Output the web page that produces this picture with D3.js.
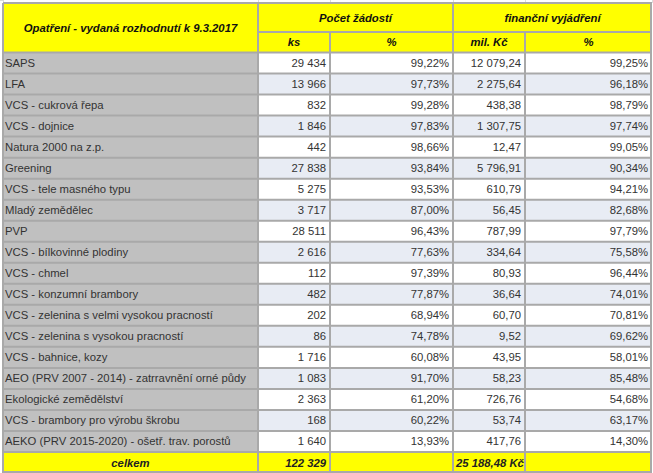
<!DOCTYPE html>
<html><head><meta charset="utf-8">
<script src="https://cdn.jsdelivr.net/npm/d3@7"></script>
<style>html,body{margin:0;padding:0;background:#fff;} svg{display:block;}</style>
</head><body>
<script>
const title = "Opatření - vydaná rozhodnutí k 9.3.2017";
const groupHeaders = ["Počet žádostí", "finanční vyjádření"];
const subHeaders = ["ks", "%", "mil. Kč", "%"];
const categories = ["SAPS","LFA","VCS - cukrová řepa","VCS - dojnice","Natura 2000 na z.p.","Greening","VCS - tele masného typu","Mladý zemědělec","PVP","VCS - bílkovinné plodiny","VCS - chmel","VCS - konzumní brambory","VCS - zelenina s velmi vysokou pracností","VCS - zelenina s vysokou pracností","VCS - bahnice, kozy","AEO (PRV 2007 - 2014) - zatrravnění orné půdy","Ekologické zemědělství","VCS - brambory pro výrobu škrobu","AEKO (PRV 2015-2020) - ošetř. trav. porostů"];
const countKs = [29434,13966,832,1846,442,27838,5275,3717,28511,2616,112,482,202,86,1716,1083,2363,168,1640];
const countPct = [99.22,97.73,99.28,97.83,98.66,93.84,93.53,87.00,96.43,77.63,97.39,77.87,68.94,74.78,60.08,91.70,61.20,60.22,13.93];
const moneyMil = [12079.24,2275.64,438.38,1307.75,12.47,5796.91,610.79,56.45,787.99,334.64,80.93,36.64,60.70,9.52,43.95,58.23,726.76,53.74,417.76];
const moneyPct = [99.25,96.18,98.79,97.74,99.05,90.34,94.21,82.68,97.79,75.58,96.44,74.01,70.81,69.62,58.01,85.48,54.68,63.17,14.30];
const totalLabel = "celkem";
const totalKs = 122329;
const totalMil = "25 188,48 Kč";

const W = 653, H = 473;
const colEdges = [3, 258, 330, 453, 525, 652];
const headTop = 3, head1 = 32, headBottom = 52.5, totalTop = 452, totalBottom = 473;
const FS = 11.3;

const fmtInt = v => d3.format(",d")(v).replace(/,/g, "\u00a0");
const fmtDec = v => d3.format(",.2f")(v).replace(/,/g, " ").replace(".", ",").replace(/ /g, "\u00a0");
const fmtPct = v => d3.format(".2f")(v).replace(".", ",") + "%";

const svg = d3.select("body").append("svg").attr("width", W).attr("height", H)
  .style("font-family", "'Liberation Sans', Arial, sans-serif");

svg.append("rect").attr("width", W).attr("height", H).attr("fill", "#fff");
// faint excel gridlines outside the table
const eg = svg.append("g").attr("stroke", "#dadcdd").attr("stroke-width", 1);
colEdges.forEach(v => eg.append("line").attr("x1", v + 0.5).attr("x2", v + 0.5).attr("y1", 0).attr("y2", headTop));
eg.append("line").attr("x1", 0).attr("x2", colEdges[0]).attr("y1", 0.5).attr("y2", 0.5);

const y = d3.scaleBand().domain(d3.range(categories.length)).range([headBottom, totalTop]).padding(0);

const yellow = "#ffff00";
const border = "#a9a9a9";

svg.append("rect").attr("x", colEdges[0]).attr("y", headTop).attr("width", colEdges[5]-colEdges[0]).attr("height", headBottom-headTop).attr("fill", yellow);

const rows = svg.append("g");
categories.forEach((c, i) => {
  const yy = y(i), h = y.bandwidth();
  rows.append("rect").attr("x", colEdges[0]).attr("y", yy).attr("width", colEdges[1]-colEdges[0]).attr("height", h).attr("fill", "#c0c0c0");
  rows.append("rect").attr("x", colEdges[1]).attr("y", yy).attr("width", colEdges[5]-colEdges[1]).attr("height", h).attr("fill", i % 2 ? "#e8ecf4" : "#ffffff");
});
svg.append("rect").attr("x", colEdges[0]).attr("y", totalTop).attr("width", colEdges[5]-colEdges[0]).attr("height", totalBottom-totalTop).attr("fill", yellow);

const g = svg.append("g").attr("stroke", border).attr("stroke-width", 2).attr("fill", "none");
const hLines = [headTop, headBottom].concat(d3.range(1, categories.length).map(i => y(i)), [totalTop, totalBottom-1]);
hLines.forEach(v => g.append("line").attr("x1", colEdges[0]).attr("x2", colEdges[5]).attr("y1", v).attr("y2", v));
g.append("line").attr("x1", colEdges[1]).attr("x2", colEdges[5]).attr("y1", head1).attr("y2", head1);
[colEdges[0], colEdges[1], colEdges[3], colEdges[5]-1].forEach(v => g.append("line").attr("x1", v).attr("x2", v).attr("y1", headTop).attr("y2", totalBottom));
[colEdges[2], colEdges[4]].forEach(v => g.append("line").attr("x1", v).attr("x2", v).attr("y1", head1).attr("y2", totalBottom));

const ht = svg.append("g").attr("font-size", FS).attr("font-weight", "bold").attr("font-style", "italic").attr("fill", "#111").attr("text-anchor", "middle");
ht.append("text").attr("x", (colEdges[0]+colEdges[1])/2).attr("y", (headTop+headBottom)/2 + 4).text(title);
ht.append("text").attr("x", (colEdges[1]+colEdges[3])/2).attr("y", (headTop+head1)/2 + 4).text(groupHeaders[0]);
ht.append("text").attr("x", (colEdges[3]+colEdges[5])/2).attr("y", (headTop+head1)/2 + 4).text(groupHeaders[1]);
subHeaders.forEach((s, j) => ht.append("text").attr("x", (colEdges[j+1]+colEdges[j+2])/2).attr("y", (head1+headBottom)/2 + 4).text(s));

const bt = svg.append("g").attr("font-size", FS).attr("fill", "#333");
categories.forEach((c, i) => {
  const cy = y(i) + y.bandwidth()/2 + 4;
  bt.append("text").attr("x", colEdges[0]+2).attr("y", cy).text(c);
  const vals = [fmtInt(countKs[i]), fmtPct(countPct[i]), fmtDec(moneyMil[i]), fmtPct(moneyPct[i])];
  vals.forEach((v, j) => bt.append("text").attr("x", colEdges[j+2]-4).attr("y", cy).attr("text-anchor", "end").text(v));
});

const tt = svg.append("g").attr("font-size", FS).attr("font-weight", "bold").attr("font-style", "italic").attr("fill", "#222");
const ty = (totalTop+totalBottom)/2 + 4;
tt.append("text").attr("x", (colEdges[0]+colEdges[1])/2).attr("y", ty).attr("text-anchor", "middle").text(totalLabel);
tt.append("text").attr("x", colEdges[2]-4).attr("y", ty).attr("text-anchor", "end").text(fmtInt(totalKs));
tt.append("text").attr("x", colEdges[3]+3).attr("y", ty).text(totalMil);
</script>
</body></html>
